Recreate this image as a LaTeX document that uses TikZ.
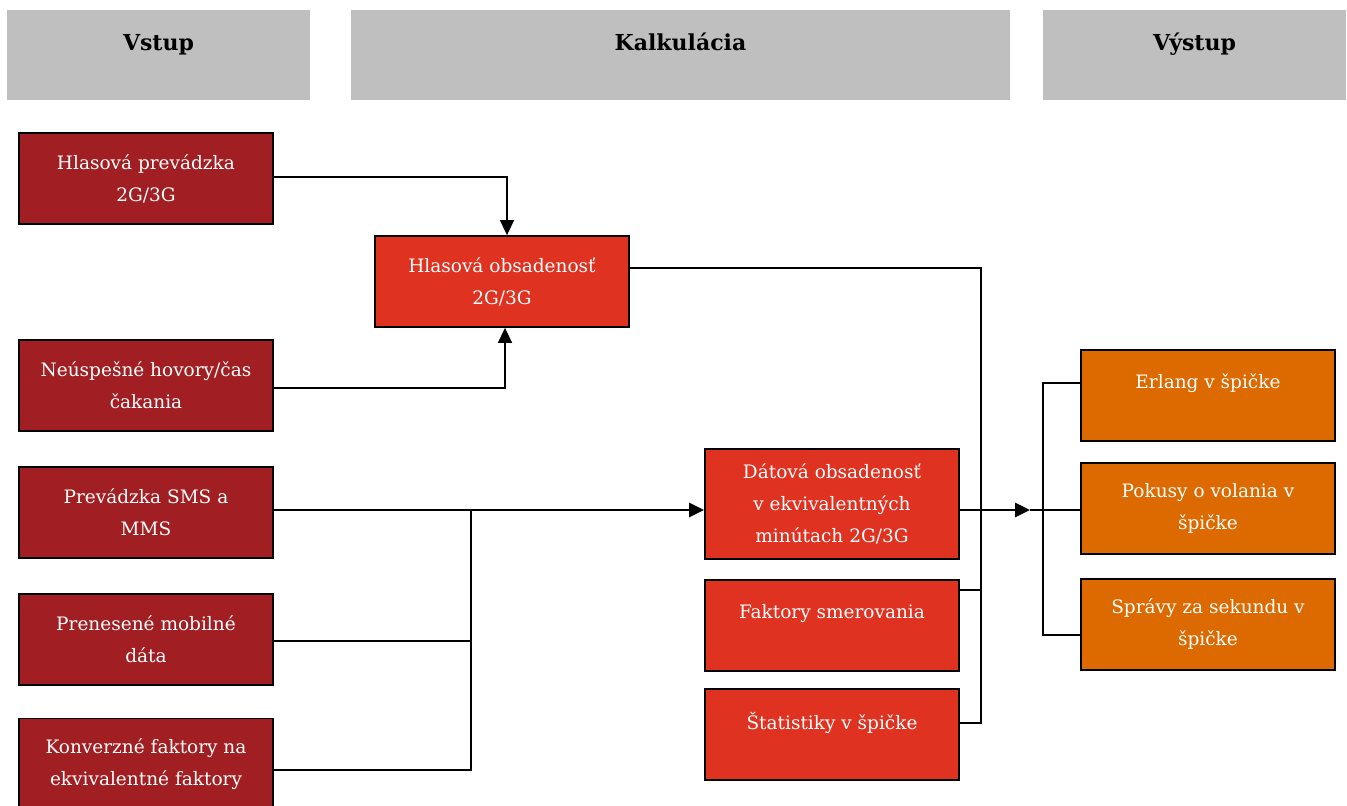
\documentclass[tikz,border=0pt]{standalone}
\usepackage{fontspec}
\setmainfont{DejaVu Serif}
\usetikzlibrary{arrows.meta}
\definecolor{hdr}{HTML}{BFBFBF}
\definecolor{inred}{HTML}{A11F22}
\definecolor{calcred}{HTML}{E03220}
\definecolor{outor}{HTML}{DC6A00}
\tikzset{
  hdrbox/.style={fill=hdr,draw=none},
  hdrtext/.style={font=\fontsize{22}{26}\selectfont\bfseries,text=black,anchor=base},
  box/.style={draw=black,line width=1.8pt,minimum width=254pt,minimum height=91pt,text=white,align=center,font=\fontsize{18.5}{32}\selectfont,inner sep=0pt},
  oneline/.style={text depth=28pt},
  inbox/.style={box,fill=inred},
  calcbox/.style={box,fill=calcred},
  outbox/.style={box,fill=outor},
  conn/.style={draw=black,line width=1.6pt},
  thick conn/.style={draw=black,line width=2.6pt},
  arr/.style={-{Triangle[length=15pt,width=14pt]}},
}
\begin{document}
\begin{tikzpicture}[x=1pt,y=-1pt]
\useasboundingbox (0,0) rectangle (1347,806);
\begin{scope}
\clip (0,0) rectangle (1347,806);
% headers
\fill[hdrbox] (7,10) rectangle (310,100);
\fill[hdrbox] (351,10) rectangle (1010,100);
\fill[hdrbox] (1043,10) rectangle (1346,100);
\node[hdrtext] (h1) at (158.5,50) {Vstup};
\node[hdrtext] (h2) at (680.5,50) {Kalkulácia};
\node[hdrtext] (h3) at (1194.5,50) {Výstup};
% inputs
\node[inbox] (i1) at (146,178.5) {Hlasová prevádzka\\2G/3G};
\node[inbox] (i2) at (146,385.5) {Neúspešné hovory/čas\\čakania};
\node[inbox] (i3) at (146,512.5) {Prevádzka SMS a\\MMS};
\node[inbox] (i4) at (146,639.5) {Prenesené mobilné\\dáta};
\node[inbox] (i5) at (146,764) {Konverzné faktory na\\ekvivalentné faktory};
% calc
\node[calcbox] (c1) at (502,281.5) {Hlasová obsadenosť\\2G/3G};
\node[calcbox,minimum height=110pt] (c2) at (832,504) {Dátová obsadenosť\\v ekvivalentných\\minútach 2G/3G};
\node[calcbox,oneline] (c3) at (832,625.5) {Faktory smerovania};
\node[calcbox,oneline] (c4) at (832,734.5) {Štatistiky v špičke};
% outputs
\node[outbox,oneline] (o1) at (1208,395.5) {Erlang v špičke};
\node[outbox] (o2) at (1208,508.5) {Pokusy o volania v\\špičke};
\node[outbox] (o3) at (1208,624.5) {Správy za sekundu v\\špičke};
% coordinates
\coordinate (j1) at (471,510);
\coordinate (a2) at (1030,510);
% connectors
\draw[conn,arr] (i1.east |- 0,177) -| (c1.north -| 507,0);
\draw[conn,arr] (i2.east |- 0,388) -| (c1.south -| 505,0);
\draw[thick conn,arr] (i3.east |- 0,510) -- (c2.west |- 0,510);
\draw[conn] (i4.east |- 0,641) -| (j1);
\draw[conn] (i5.east |- 0,770) -| (j1);
\draw[conn] (c1.east |- 0,268) -| (981,723) -- (c4.east |- 0,723);
\draw[conn] (c3.east |- 0,590) -- (981,590);
\draw[thick conn,arr] (c2.east |- 0,510) -- (a2);
\draw[conn] (a2) -- (o2.west |- 0,510);
\draw[conn] (o1.west |- 0,383) -| (1043,635) -- (o3.west |- 0,635);
\end{scope}
\end{tikzpicture}
\end{document}
